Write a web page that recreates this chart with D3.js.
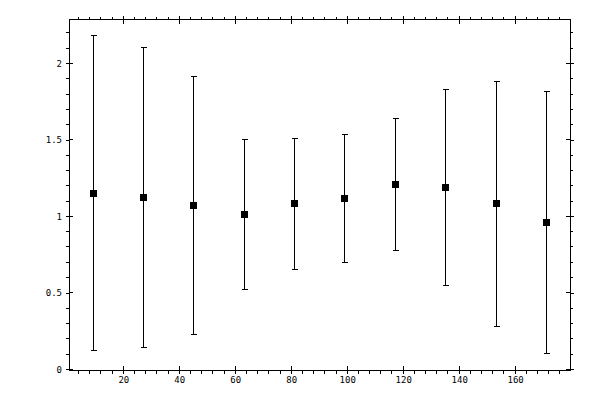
<!DOCTYPE html>
<html>
<head>
<meta charset="utf-8">
<script src="https://d3js.org/d3.v7.min.js"></script>
<style>
  body { margin: 0; background: #fff; }
  svg { display: block; }
  .axis text { font-family: "DejaVu Sans Mono", monospace; font-size: 9px; fill: #000; }
  .axis path, .axis line { stroke: #000; shape-rendering: crispEdges; }
</style>
</head>
<body>
<svg class="chart"></svg>
<script>
// bin centres and values
const xValues = [9, 27, 45, 63, 81, 99, 117, 135, 153, 171];
const means   = [1.150, 1.124, 1.072, 1.015, 1.085, 1.118, 1.209, 1.190, 1.085, 0.961];
const upper   = [2.185, 2.105, 1.915, 1.503, 1.510, 1.538, 1.641, 1.830, 1.884, 1.819];
const lower   = [0.124, 0.144, 0.231, 0.523, 0.656, 0.699, 0.780, 0.551, 0.281, 0.107];

const xMajor = [20, 40, 60, 80, 100, 120, 140, 160];
const yMajor = [0, 0.5, 1, 1.5, 2];
const xMinor = d3.range(4, 180, 4).filter(v => v % 20 !== 0);
const yMinor = d3.range(1, 23).map(v => v / 10).filter(v => Math.round(v * 10) % 5 !== 0);

const width = 600, height = 400;
const pLeft = 69, pRight = 570, pTop = 19.5, pBottom = 370;

const svg = d3.select(".chart").attr("width", width).attr("height", height);

const x = d3.scaleLinear().domain([0.6, 179.6]).range([pLeft, pRight]);
const y = d3.scaleLinear().domain([-0.004, 2.287]).range([pBottom, pTop]);

// frame
svg.append("rect")
  .attr("x", pLeft + 0.5).attr("y", pTop)
  .attr("width", pRight - pLeft).attr("height", pBottom - pTop)
  .attr("fill", "none").attr("stroke", "#000")
  .style("shape-rendering", "crispEdges");

// bottom axis: labels + outward ticks
const gx = svg.append("g").attr("class", "axis")
  .attr("transform", "translate(0," + pBottom + ")")
  .call(d3.axisBottom(x).tickValues(xMajor).tickSize(4).tickPadding(3).tickFormat(d3.format("d")));
gx.select(".domain").remove();
gx.append("g").selectAll("line").data(xMinor).join("line")
  .attr("x1", d => x(d)).attr("x2", d => x(d)).attr("y1", 0).attr("y2", 4);
gx.append("g").selectAll("line").data(xMajor).join("line")
  .attr("x1", d => x(d)).attr("x2", d => x(d)).attr("y1", 0).attr("y2", -4);

// top axis, no labels
const gt = svg.append("g").attr("class", "axis")
  .attr("transform", "translate(0," + pTop + ")")
  .call(d3.axisTop(x).tickValues(xMajor).tickSize(4).tickFormat(""));
gt.select(".domain").remove();
gt.append("g").selectAll("line").data(xMinor).join("line")
  .attr("x1", d => x(d)).attr("x2", d => x(d)).attr("y1", 0).attr("y2", -3);
gt.append("g").selectAll("line").data(xMajor).join("line")
  .attr("x1", d => x(d)).attr("x2", d => x(d)).attr("y1", 0).attr("y2", 4);

// left axis
const gy = svg.append("g").attr("class", "axis")
  .attr("transform", "translate(" + pLeft + ",0)")
  .call(d3.axisLeft(y).tickValues(yMajor).tickSize(3).tickPadding(4).tickFormat(d => d));
gy.select(".domain").remove();
gy.append("g").selectAll("line").data(yMinor).join("line")
  .attr("y1", d => y(d)).attr("y2", d => y(d)).attr("x1", 0).attr("x2", -3);
gy.append("g").selectAll("line").data(yMajor).join("line")
  .attr("y1", d => y(d)).attr("y2", d => y(d)).attr("x1", 0).attr("x2", 4);

// right axis, no labels
const gr = svg.append("g").attr("class", "axis")
  .attr("transform", "translate(" + pRight + ",0)")
  .call(d3.axisRight(y).tickValues(yMajor).tickSize(4).tickFormat(""));
gr.select(".domain").remove();
gr.append("g").selectAll("line").data(yMinor).join("line")
  .attr("y1", d => y(d)).attr("y2", d => y(d)).attr("x1", 0).attr("x2", 3);
gr.append("g").selectAll("line").data(yMajor).join("line")
  .attr("y1", d => y(d)).attr("y2", d => y(d)).attr("x1", 0).attr("x2", -4);

// error bars
const data = xValues.map((v, i) => ({x: v, m: means[i], hi: upper[i], lo: lower[i]}));
const px = d => Math.round(x(d.x)) + 0.5;

const bars = svg.append("g").attr("stroke", "#000").style("shape-rendering", "crispEdges");
bars.selectAll(".stem").data(data).join("line").attr("class", "stem")
  .attr("x1", px).attr("x2", px)
  .attr("y1", d => y(d.hi)).attr("y2", d => y(d.lo));
bars.selectAll(".capHi").data(data).join("line").attr("class", "capHi")
  .attr("x1", d => px(d) - 3).attr("x2", d => px(d) + 3)
  .attr("y1", d => Math.round(y(d.hi)) + 0.5).attr("y2", d => Math.round(y(d.hi)) + 0.5);
bars.selectAll(".capLo").data(data).join("line").attr("class", "capLo")
  .attr("x1", d => px(d) - 3).attr("x2", d => px(d) + 3)
  .attr("y1", d => Math.round(y(d.lo)) + 0.5).attr("y2", d => Math.round(y(d.lo)) + 0.5);

// markers
svg.append("g").selectAll("rect").data(data).join("rect")
  .attr("x", d => Math.round(x(d.x)) - 3)
  .attr("y", d => Math.round(y(d.m)) - 3)
  .attr("width", 7).attr("height", 7)
  .attr("fill", "#000")
  .style("shape-rendering", "crispEdges");
</script>
</body>
</html>
